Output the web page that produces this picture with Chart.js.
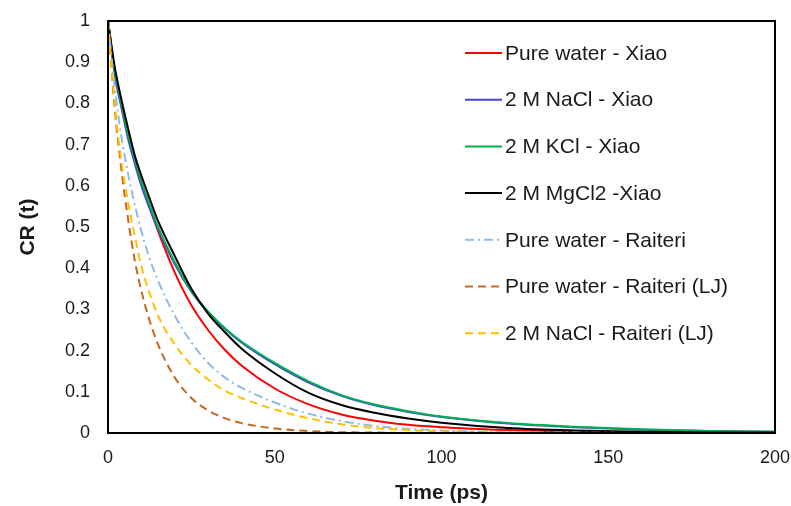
<!DOCTYPE html>
<html>
<head>
<meta charset="utf-8">
<script src="https://cdn.jsdelivr.net/npm/chart.js@4.4.1/dist/chart.umd.min.js"></script>
<style>
  html, body { margin: 0; padding: 0; background: #fff; }
  #wrap { width: 791px; height: 506px; }
</style>
</head>
<body>
<div id="wrap"><canvas id="crChart" width="791" height="506"></canvas></div>
<script>
// time points (ps)
const times = [0, 2, 4, 6, 8, 10, 12, 15, 20, 25, 30, 35, 40, 50, 60, 70, 80, 90, 100, 120, 140, 160, 180, 200];

// CR(t)
const pureWaterXiao = [1, 0.88, 0.80, 0.725, 0.665, 0.61, 0.56, 0.49, 0.39, 0.31, 0.25, 0.202, 0.164, 0.108, 0.07, 0.045, 0.03, 0.02, 0.014, 0.007, 0.003, 0.002, 0.001, 0];
const naclXiao = [1, 0.87, 0.79, 0.715, 0.655, 0.60, 0.555, 0.495, 0.41, 0.343, 0.293, 0.253, 0.22, 0.167, 0.123, 0.09, 0.067, 0.051, 0.039, 0.023, 0.014, 0.008, 0.005, 0.003];
const kclXiao = [1, 0.88, 0.80, 0.725, 0.665, 0.61, 0.565, 0.50, 0.415, 0.345, 0.295, 0.255, 0.222, 0.17, 0.126, 0.092, 0.069, 0.053, 0.04, 0.024, 0.015, 0.009, 0.005, 0.003];
const mgcl2Xiao = [1, 0.89, 0.81, 0.74, 0.675, 0.625, 0.58, 0.515, 0.43, 0.35, 0.29, 0.245, 0.205, 0.145, 0.098, 0.068, 0.049, 0.035, 0.025, 0.012, 0.006, 0.003, 0.0015, 0.001];
const pureWaterRaiteri = [1, 0.84, 0.72, 0.63, 0.555, 0.49, 0.435, 0.37, 0.285, 0.22, 0.17, 0.135, 0.11, 0.074, 0.047, 0.029, 0.017, 0.01, 0.006, 0.002, 0.001, 0, 0, 0];
const pureWaterRaiteriLJ = [1, 0.79, 0.64, 0.52, 0.42, 0.345, 0.285, 0.215, 0.135, 0.085, 0.055, 0.036, 0.024, 0.011, 0.005, 0.002, 0.001, 0, 0, 0, 0, 0, 0, 0];
const naclRaiteriLJ = [1, 0.8, 0.66, 0.56, 0.48, 0.405, 0.35, 0.285, 0.215, 0.165, 0.13, 0.103, 0.085, 0.057, 0.036, 0.021, 0.012, 0.007, 0.004, 0.001, 0, 0, 0, 0];

const seriesNames = [
  "Pure water - Xiao",
  "2 M NaCl - Xiao",
  "2 M KCl - Xiao",
  "2 M MgCl2 -Xiao",
  "Pure water - Raiteri",
  "Pure water - Raiteri (LJ)",
  "2 M NaCl - Raiteri (LJ)"
];
const seriesValues = [pureWaterXiao, naclXiao, kclXiao, mgcl2Xiao, pureWaterRaiteri, pureWaterRaiteriLJ, naclRaiteriLJ];

const xTicks = [0, 50, 100, 150, 200];
const yTicks = [0, 0.1, 0.2, 0.3, 0.4, 0.5, 0.6, 0.7, 0.8, 0.9, 1];

const colors = ["#ff0000", "#4b40e0", "#00b050", "#000000", "#8fbce6", "#c8661e", "#ffc000"];
const dashes = [[], [], [], [], [9, 4, 2, 4], [8, 5], [8, 5]];

const datasets = seriesNames.map((name, i) => ({
  label: name,
  data: times.map((t, j) => ({ x: t, y: seriesValues[i][j] })),
  borderColor: colors[i],
  borderWidth: 2,
  borderDash: dashes[i],
  pointRadius: 0,
  cubicInterpolationMode: "monotone",
  fill: false,
  order: seriesNames.length - 1 - i // last series on top, like Excel
}));

// legend drawn inside the plot, right side
const insideLegend = {
  id: "insideLegend",
  afterDraw(chart) {
    const ctx = chart.ctx;
    ctx.save();
    ctx.font = "21px 'Liberation Sans', Arial, sans-serif";
    ctx.textBaseline = "middle";
    ctx.fillStyle = "#1a1a1a";
    chart.data.datasets.forEach((ds, i) => {
      const y = 53 + i * 46.7;
      ctx.beginPath();
      ctx.strokeStyle = ds.borderColor;
      ctx.lineWidth = 2;
      ctx.setLineDash(ds.borderDash);
      ctx.moveTo(465, y);
      ctx.lineTo(502, y);
      ctx.stroke();
      ctx.setLineDash([]);
      ctx.fillText(ds.label, 505, y + 1);
    });
    ctx.restore();
  }
};

// closed frame round the plot
const frame = {
  id: "frame",
  afterDatasetsDraw(chart) {
    const a = chart.chartArea;
    const ctx = chart.ctx;
    ctx.save();
    ctx.strokeStyle = "#000";
    ctx.lineWidth = 2;
    ctx.strokeRect(a.left, a.top, a.right - a.left, a.bottom - a.top);
    ctx.restore();
  }
};

const tickFont = { family: "'Liberation Sans', Arial, sans-serif", size: 18 };
const titleFont = { family: "'Liberation Sans', Arial, sans-serif", size: 21, weight: "bold" };

new Chart(document.getElementById("crChart").getContext("2d"), {
  type: "line",
  data: { datasets },
  options: {
    responsive: false,
    animation: false,
    layout: { padding: { top: 21, right: 16, left: 0, bottom: 0 } },
    plugins: { legend: { display: false }, tooltip: { enabled: false } },
    scales: {
      x: {
        type: "linear",
        min: 0,
        max: 200,
        afterBuildTicks: (s) => { s.ticks = xTicks.map(v => ({ value: v })); },
        afterFit: (s) => { s.height = 73; s.paddingLeft = 0; s.paddingRight = 0; },
        grid: { display: false, drawTicks: false },
        border: { display: false },
        ticks: { font: tickFont, color: "#1a1a1a", padding: 14, maxRotation: 0 },
        title: { display: true, text: "Time (ps)", font: titleFont, color: "#1a1a1a", padding: { top: 0, bottom: 0 } }
      },
      y: {
        min: 0,
        max: 1,
        afterBuildTicks: (s) => { s.ticks = yTicks.map(v => ({ value: v })); },
        afterFit: (s) => { s.width = 108; s.paddingTop = 0; s.paddingBottom = 0; },
        grid: { display: false, drawTicks: false },
        border: { display: false },
        ticks: { font: tickFont, color: "#1a1a1a", padding: 18, callback: (v) => String(v) },
        title: { display: true, text: "CR (t)", font: titleFont, color: "#1a1a1a", padding: { top: 16, bottom: 0 } }
      }
    }
  },
  plugins: [frame, insideLegend]
});
</script>
</body>
</html>
